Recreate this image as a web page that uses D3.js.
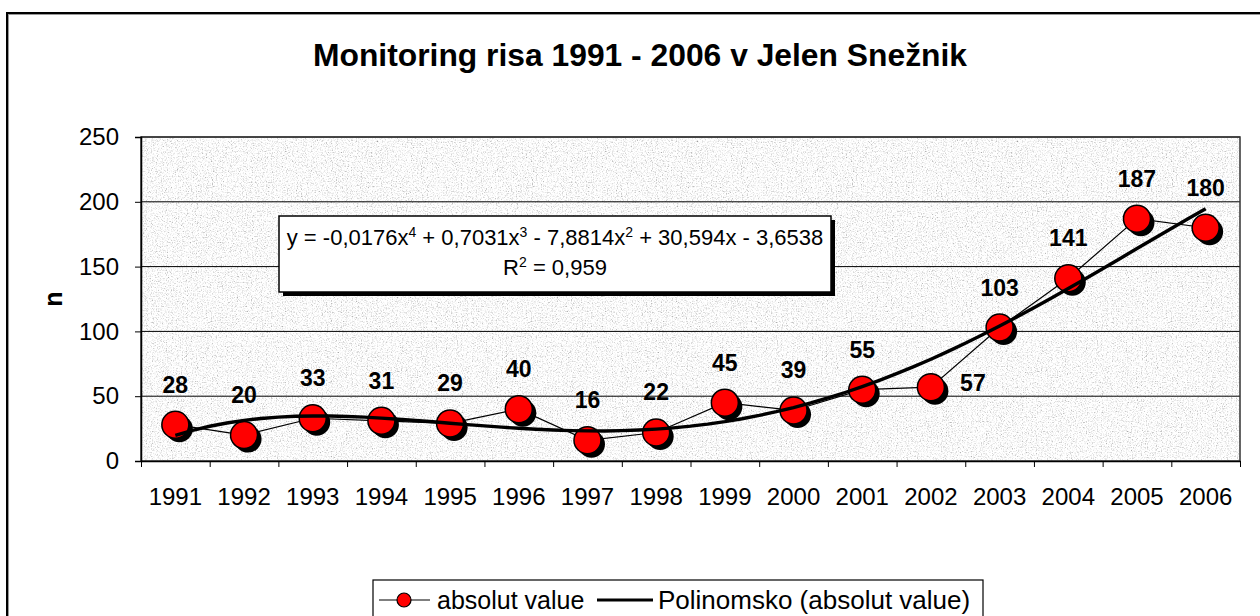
<!DOCTYPE html>
<html><head><meta charset="utf-8">
<script src="https://cdn.jsdelivr.net/npm/d3@7"></script>
<style>
html,body{margin:0;padding:0;background:#fff;}
svg{display:block;font-family:"Liberation Sans",Arial,sans-serif;}
</style></head>
<body>
<svg id="chart" width="1260" height="616"></svg>
<script>
const years = ["1991","1992","1993","1994","1995","1996","1997","1998","1999","2000","2001","2002","2003","2004","2005","2006"];
const values = [28,20,33,31,29,40,16,22,45,39,55,57,103,141,187,180];
const yTicks = [0,50,100,150,200,250];
// polynomial trendline coefficients as printed on the chart (x^4, x^3, x^2, x, const)
const trendCoef = [-0.0176, 0.7031, -7.8814, 30.594, -3.6538];
const titleText = "Monitoring risa 1991 - 2006 v Jelen Snežnik";
const seriesName = "absolut value";
const trendName = "Polinomsko (absolut value)";

const svg = d3.select("#chart");
const defs = svg.append("defs");
const f = defs.append("filter").attr("id","granite").attr("x",0).attr("y",0).attr("width","100%").attr("height","100%");
f.append("feTurbulence").attr("type","fractalNoise").attr("baseFrequency","0.8").attr("numOctaves",3).attr("seed",7).attr("result","n");
f.append("feColorMatrix").attr("in","n").attr("type","matrix")
 .attr("values","0.6 0.6 0 0 0  0.6 0.6 0 0 0  0.6 0.6 0 0 0  0 0 0 0 1").attr("result","g");
const ct = f.append("feComponentTransfer").attr("in","g").attr("result","c");
["feFuncR","feFuncG","feFuncB"].forEach(k=>ct.append(k).attr("type","linear").attr("slope",1.5).attr("intercept",0.07));
f.append("feComposite").attr("in","c").attr("in2","SourceGraphic").attr("operator","in");

// outer chart border
svg.append("path").attr("d","M7,616 V13 H1260").attr("fill","none").attr("stroke","#999").attr("stroke-width",2).attr("transform","translate(1,1)");
svg.append("path").attr("d","M7,616 V13 H1260").attr("fill","none").attr("stroke","#000").attr("stroke-width",2);

svg.append("text").attr("x",640).attr("y",66).attr("text-anchor","middle")
 .attr("font-size",31.5).attr("font-weight","bold").attr("textLength",654).attr("lengthAdjust","spacingAndGlyphs").text(titleText);

const L=141,R=1240,T=137,B=461;
const x = d3.scaleBand().domain(years).range([L,R]).padding(0);
const y = d3.scaleLinear().domain([0,250]).range([B,T]);
const cx = d => x(d)+x.bandwidth()/2;

// plot area
svg.append("rect").attr("x",L).attr("y",T).attr("width",R-L).attr("height",B-T).attr("fill","#fff").attr("filter","url(#granite)");
// gridlines
svg.append("g").selectAll("line").data(yTicks.filter(v=>v>0)).join("line")
 .attr("x1",L).attr("x2",R).attr("y1",d=>y(d)).attr("y2",d=>y(d)).attr("stroke","#000").attr("stroke-width",1);
svg.append("rect").attr("x",L).attr("y",T).attr("width",R-L).attr("height",B-T).attr("fill","none").attr("stroke","#333").attr("stroke-width",1.5);

// y axis
const ya = svg.append("g").attr("transform",`translate(${L},0)`)
 .call(d3.axisLeft(y).tickValues(yTicks).tickSize(6).tickPadding(16));
ya.select(".domain").attr("stroke","#000").attr("stroke-width",1.5);
ya.selectAll("text").attr("font-size",24).attr("font-family","Liberation Sans, Arial, sans-serif").attr("fill","#000");
// x axis: labels
const xa = svg.append("g").attr("transform",`translate(0,${B})`)
 .call(d3.axisBottom(x).tickSize(0).tickPadding(27));
xa.select(".domain").attr("stroke","#000").attr("stroke-width",1.5);
xa.selectAll("text").attr("font-size",24).attr("font-family","Liberation Sans, Arial, sans-serif").attr("fill","#000");
// x axis: boundary tick marks
const xb = d3.scaleLinear().domain([0,years.length]).range([L,R]);
const xt = svg.append("g").attr("transform",`translate(0,${B})`)
 .call(d3.axisBottom(xb).tickValues(d3.range(0,years.length+1)).tickSize(6).tickFormat(""));
xt.select(".domain").remove();
xt.selectAll("line").attr("stroke","#000");

svg.append("text").attr("transform",`translate(62,${(T+B)/2}) rotate(-90)`).attr("text-anchor","middle")
 .attr("font-size",25).attr("font-weight","bold").text("n");

// data line
const line = d3.line().x((d,i)=>cx(years[i])).y(d=>y(d));
svg.append("path").datum(values).attr("d",line).attr("fill","none").attr("stroke","#000").attr("stroke-width",1.2);

// markers
const mk = svg.append("g").selectAll("g").data(values).join("g")
 .attr("transform",(d,i)=>`translate(${cx(years[i])},${y(d)})`);
mk.append("circle").attr("cx",4).attr("cy",4).attr("r",13.5).attr("fill","#000");
mk.append("circle").attr("r",13.5).attr("fill","#ff0000").attr("stroke","#000").attr("stroke-width",1.5);

// trendline from printed polynomial
const poly = t => trendCoef.reduce((s,c,k)=>s + c*Math.pow(t, trendCoef.length-1-k), 0);
const tx = d3.scaleLinear().domain([1,years.length]).range([cx(years[0]),cx(years[years.length-1])]);
const samples = d3.range(1, years.length+0.001, 0.25);
svg.append("path").datum(samples)
 .attr("d", d3.line().x(t=>tx(t)).y(t=>y(poly(t))))
 .attr("fill","none").attr("stroke","#000").attr("stroke-width",3.4);

// data labels
svg.append("g").selectAll("text").data(values).join("text")
 .attr("x",(d,i)=> years[i]==="2002" ? cx(years[i])+42 : cx(years[i]))
 .attr("y",(d,i)=> years[i]==="2002" ? y(d)+4 : y(d)-32)
 .attr("text-anchor","middle").attr("font-size",23).attr("font-weight","bold").text(d=>d);

// equation box
const eb = svg.append("g");
eb.append("rect").attr("x",283).attr("y",220).attr("width",552).attr("height",76).attr("fill","#000");
eb.append("rect").attr("x",279).attr("y",216).attr("width",552).attr("height",76).attr("fill","#fff").attr("stroke","#000").attr("stroke-width",1.5);
const eq = eb.append("text").attr("x",555).attr("y",245).attr("text-anchor","middle").attr("font-size",22);
const parts = [["y = -0,0176x",""],["4","sup"],[" + 0,7031x",""],["3","sup"],[" - 7,8814x",""],["2","sup"],[" + 30,594x - 3,6538",""]];
parts.forEach((p,i)=>{
  const ts = eq.append("tspan").text(p[0]);
  if(p[1]==="sup") ts.attr("font-size",14).attr("dy",-8);
  else if(i>0 && parts[i-1][1]==="sup") ts.attr("dy",8);
});
const r2 = eb.append("text").attr("x",555).attr("y",275).attr("text-anchor","middle").attr("font-size",22);
r2.append("tspan").text("R");
r2.append("tspan").text("2").attr("font-size",14).attr("dy",-8);
r2.append("tspan").text(" = 0,959").attr("dy",8);

// legend
const lg = svg.append("g");
lg.append("rect").attr("x",373).attr("y",580).attr("width",610).attr("height",50).attr("fill","#fff").attr("stroke","#000").attr("stroke-width",1.2);
lg.append("line").attr("x1",379).attr("x2",430).attr("y1",600).attr("y2",600).attr("stroke","#000").attr("stroke-width",1.2);
lg.append("circle").attr("cx",404).attr("cy",600).attr("r",7).attr("fill","#ff0000").attr("stroke","#000").attr("stroke-width",1.2);
lg.append("text").attr("x",437).attr("y",609).attr("font-size",25).text(seriesName);
lg.append("line").attr("x1",597).attr("x2",653).attr("y1",600).attr("y2",600).attr("stroke","#000").attr("stroke-width",3);
lg.append("text").attr("x",658).attr("y",609).attr("font-size",26).text(trendName);
</script>
</body></html>
